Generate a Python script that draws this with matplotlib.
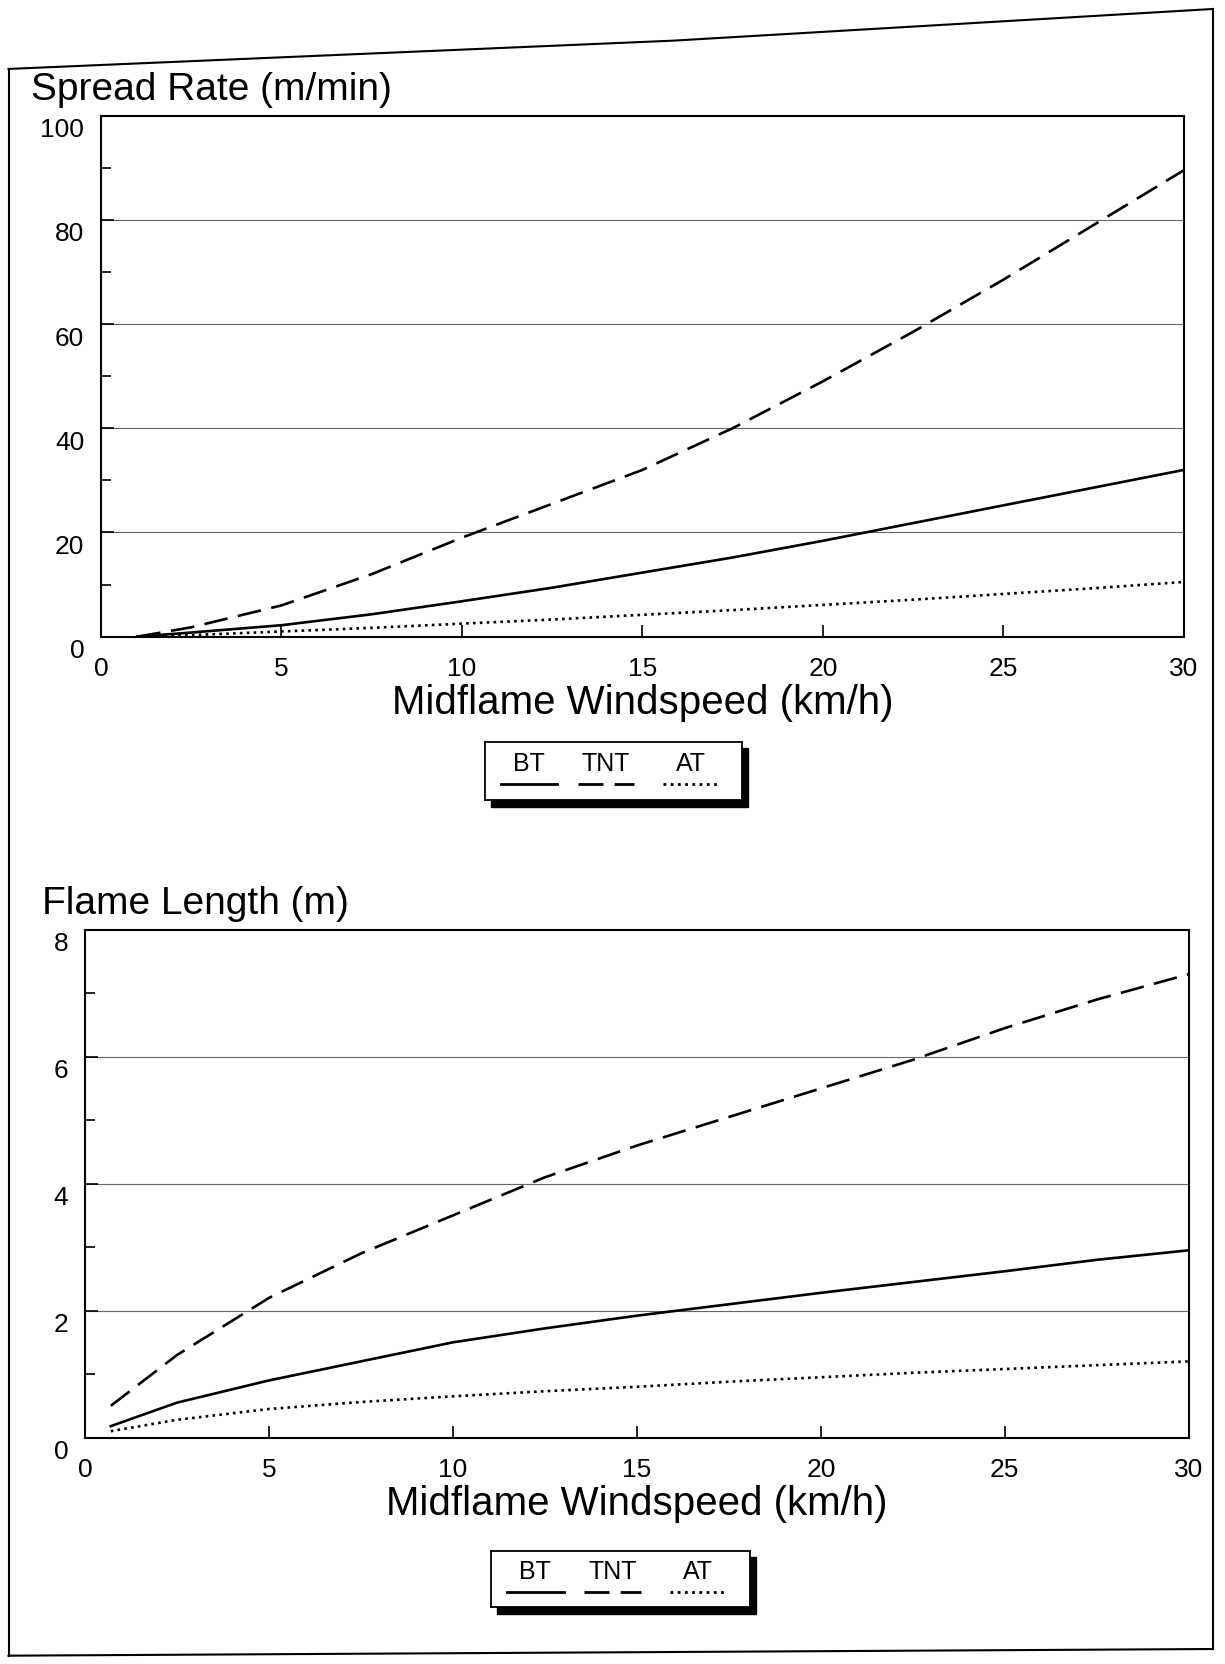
import matplotlib
matplotlib.use("Agg")
import matplotlib.pyplot as plt
from matplotlib.patches import Rectangle
from matplotlib.lines import Line2D
from matplotlib.transforms import ScaledTranslation

plt.rcParams['font.family'] = ['Liberation Sans', 'DejaVu Sans']

# windspeed (km/h)
wind = [1, 2.5, 5, 7.5, 10, 12.5, 15, 17.5, 20, 22.5, 25, 27.5, 30]

# spread rate (m/min)
rate_bt = [0, 0.8, 2.2, 4.3, 6.8, 9.4, 12.3, 15.2, 18.4, 21.8, 25.2, 28.6, 32.0]
rate_tnt = [0, 1.8, 6.0, 12.0, 19.0, 25.5, 32.0, 40.0, 49.0, 58.5, 68.5, 79.0, 89.5]
rate_at = [0, 0.3, 1.0, 1.7, 2.5, 3.3, 4.2, 5.1, 6.1, 7.1, 8.2, 9.3, 10.5]

# flame length (m)
flame_x = [0.7, 2.5, 5, 7.5, 10, 12.5, 15, 17.5, 20, 22.5, 25, 27.5, 30]
flame_bt = [0.18, 0.55, 0.9, 1.2, 1.5, 1.72, 1.92, 2.1, 2.28, 2.45, 2.62, 2.8, 2.95]
flame_tnt = [0.5, 1.3, 2.2, 2.9, 3.5, 4.1, 4.6, 5.05, 5.5, 5.95, 6.45, 6.9, 7.3]
flame_at = [0.1, 0.28, 0.45, 0.56, 0.65, 0.73, 0.8, 0.88, 0.95, 1.02, 1.08, 1.14, 1.2]

series_names = ['BT', 'TNT', 'AT']
styles = [dict(ls='-'), dict(ls=(0, (9, 4))), dict(ls=(0, (1, 1.6)))]

fig = plt.figure(figsize=(12.25, 16.65), dpi=100)

# page border of the scan
fig.add_artist(Line2D([0.007, 0.007], [0.005, 0.958], color='black', lw=1.5))
fig.add_artist(Line2D([0.007, 0.55, 0.99], [0.958, 0.975, 0.994], color='black', lw=1.5))
fig.add_artist(Line2D([0.99, 0.99], [0.994, 0.009], color='black', lw=1.5))
fig.add_artist(Line2D([0.007, 0.99], [0.005, 0.009], color='black', lw=1.5))


def draw_panel(ax, x, ys, ymax, ystep, title, title_pos):
    for y, st in zip(ys, styles):
        ax.plot(x, y, color='black', lw=1.9, **st)
    ax.set_xlim(0, 30)
    ax.set_ylim(0, ymax)
    ax.set_xticks(range(0, 31, 5))
    ax.set_yticks([v * ystep for v in range(int(ymax / ystep) + 1)])
    ax.set_yticks([v * ystep / 2 for v in range(1, int(ymax / ystep) * 2, 2)], minor=True)
    ax.tick_params(direction='in', length=9, width=1.2, labelsize=19, pad=12)
    ax.tick_params(axis='y', which='minor', direction='in', length=7, width=1.2)
    ax.tick_params(axis='x', pad=14)
    # labels sit a little below their ticks on the original
    shift = ScaledTranslation(0, -8 / 72, fig.dpi_scale_trans)
    for lab in ax.get_yticklabels():
        lab.set_transform(lab.get_transform() + shift)
    for g in ax.get_yticks()[1:-1]:
        ax.axhline(g, color='0.4', lw=0.8, zorder=0)
    for sp in ax.spines.values():
        sp.set_linewidth(1.5)
    ax.set_xlabel('Midflame Windspeed (km/h)', fontsize=29, labelpad=2)
    fig.text(title_pos[0], title_pos[1], title, fontsize=28, ha='left', va='bottom')


def draw_legend(rect):
    sx, sy, w, h = rect
    fig.add_artist(Rectangle((sx + 0.005, sy - 0.004), w, h, transform=fig.transFigure,
                             facecolor='black', edgecolor='black', zorder=0.5))
    lax = fig.add_axes(rect)
    lax.set_zorder(2)
    lax.set_xlim(0, 1)
    lax.set_ylim(0, 1)
    lax.set_xticks([])
    lax.set_yticks([])
    for sp in lax.spines.values():
        sp.set_linewidth(1.3)
    centers = [0.17, 0.47, 0.8]
    for c, name, st in zip(centers, series_names, styles):
        lax.text(c, 0.64, name, fontsize=18, ha='center', va='center')
        lax.plot([c - 0.11, c + 0.11], [0.27, 0.27], color='black', lw=2.0, **st)


ax1 = fig.add_axes([0.0824, 0.617, 0.884, 0.313])
draw_panel(ax1, wind, [rate_bt, rate_tnt, rate_at], 100, 20,
           'Spread Rate (m/min)', (0.025, 0.935))
draw_legend([0.396, 0.519, 0.21, 0.035])

ax2 = fig.add_axes([0.0694, 0.136, 0.901, 0.305])
draw_panel(ax2, flame_x, [flame_bt, flame_tnt, flame_at], 8, 2,
           'Flame Length (m)', (0.034, 0.446))
draw_legend([0.401, 0.034, 0.211, 0.034])

fig.savefig('out.png', dpi=100)
